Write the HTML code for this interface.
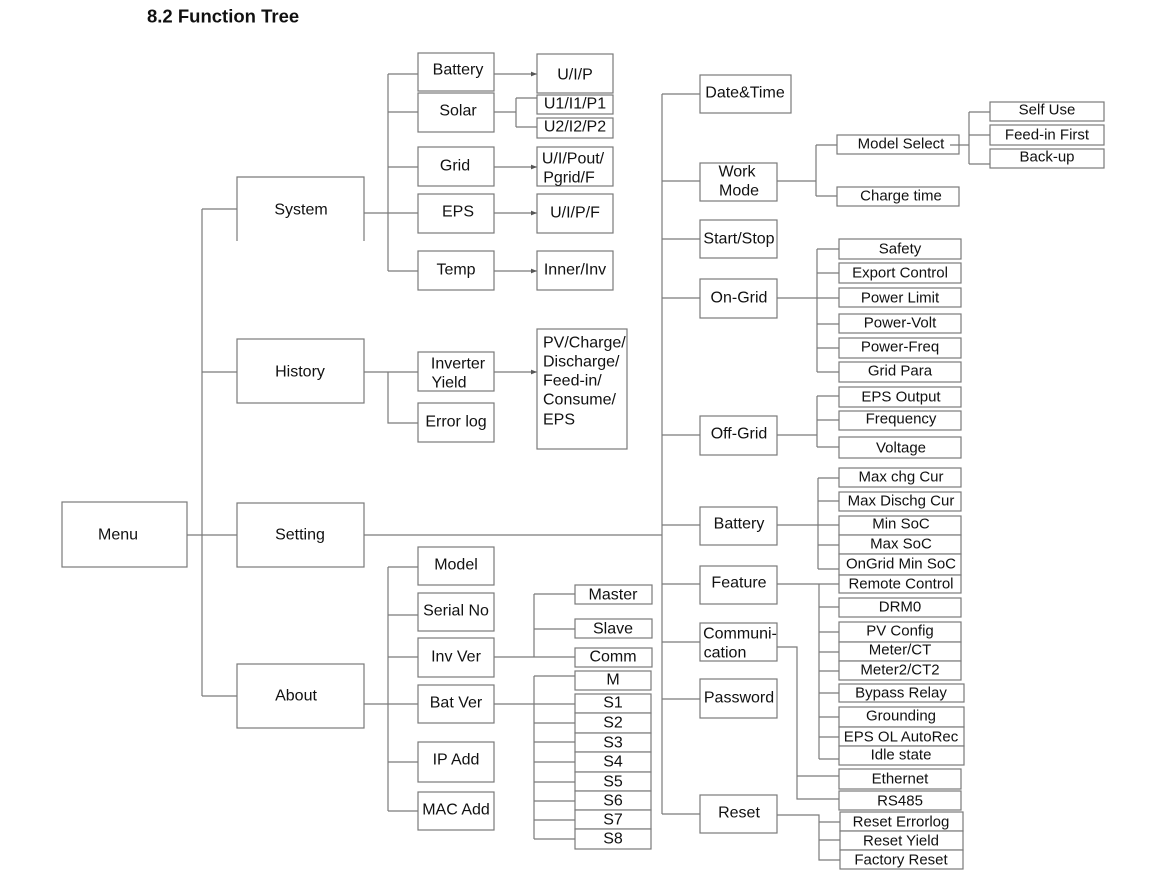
<!DOCTYPE html>
<html><head><meta charset="utf-8"><style>
html,body{margin:0;padding:0;background:#fff;}
svg{display:block;}
text{font-family:"Liberation Sans",Arial,sans-serif;fill:#111;text-anchor:middle;dominant-baseline:central;}
.t{font-size:16px;}
.s{font-size:15px;}
rect{fill:#fff;stroke:#7a7a7a;stroke-width:1.2;}
path,line{stroke:#7a7a7a;stroke-width:1.2;fill:none;}
</style></head><body>
<svg width="1171" height="883" viewBox="0 0 1171 883">
<defs><marker id="a" markerWidth="6" markerHeight="6" refX="5" refY="3" orient="auto"><path d="M0,1 L5,3 L0,5" style="fill:#555;stroke:none"/></marker></defs>
<text x="147" y="16" style="font-size:18.5px;font-weight:bold;text-anchor:start">8.2 Function Tree</text>

<!-- main trunk -->
<path d="M187,535 H202 M202,209 V696 M202,209 H237 M202,372 H237 M202,535 H237 M202,696 H237"/>
<rect x="62" y="502" width="125" height="65"/><text class="t" x="118" y="535">Menu</text>
<path d="M237,241 V177 H364 V241"/><text class="t" x="301" y="210">System</text>
<rect x="237" y="339" width="127" height="64"/><text class="t" x="300" y="372">History</text>
<rect x="237" y="503" width="127" height="64"/><text class="t" x="300" y="535">Setting</text>
<rect x="237" y="664" width="127" height="64"/><text class="t" x="296" y="696">About</text>

<!-- System -->
<path d="M364,213 H418 M388,74 V271 M388,74 H418 M388,112 H418 M388,167 H418 M388,271 H418"/>
<rect x="418" y="53" width="76" height="38"/><text class="t" x="458" y="70">Battery</text>
<rect x="418" y="93" width="76" height="39"/><text class="t" x="458" y="111">Solar</text>
<rect x="418" y="147" width="76" height="39"/><text class="t" x="455" y="166">Grid</text>
<rect x="418" y="194" width="76" height="39"/><text class="t" x="458" y="212">EPS</text>
<rect x="418" y="251" width="76" height="39"/><text class="t" x="456" y="270">Temp</text>
<path d="M494,74 H537" marker-end="url(#a)"/>
<path d="M494,167 H537" marker-end="url(#a)"/>
<path d="M494,213 H537" marker-end="url(#a)"/>
<path d="M494,271 H537" marker-end="url(#a)"/>
<path d="M494,112 H516 M516,98 V127 M516,98 H537 M516,127 H537"/>
<rect x="537" y="54" width="76" height="39"/><text class="t" x="575" y="75">U/I/P</text>
<rect x="537" y="95" width="76" height="19"/><text class="t" x="575" y="104">U1/I1/P1</text>
<rect x="537" y="118" width="76" height="20"/><text class="t" x="575" y="127">U2/I2/P2</text>
<rect x="537" y="147" width="76" height="39"/><text class="t" x="573" y="159">U/I/Pout/</text><text class="t" x="569" y="178">Pgrid/F</text>
<rect x="537" y="194" width="76" height="39"/><text class="t" x="575" y="213">U/I/P/F</text>
<rect x="537" y="251" width="76" height="39"/><text class="t" x="575" y="270">Inner/Inv</text>

<!-- History -->
<path d="M364,372 H418 M388,372 V423 H418"/>
<rect x="418" y="352" width="76" height="39"/><text class="t" x="458" y="364">Inverter</text><text class="t" x="449" y="383">Yield</text>
<rect x="418" y="403" width="76" height="39"/><text class="t" x="456" y="422">Error log</text>
<path d="M494,372 H537" marker-end="url(#a)"/>
<rect x="537" y="329" width="90" height="120"/>
<text class="t" x="543" y="343" style="text-anchor:start">PV/Charge/</text>
<text class="t" x="543" y="362" style="text-anchor:start">Discharge/</text>
<text class="t" x="543" y="381" style="text-anchor:start">Feed-in/</text>
<text class="t" x="543" y="400" style="text-anchor:start">Consume/</text>
<text class="t" x="543" y="420" style="text-anchor:start">EPS</text>

<!-- About -->
<path d="M364,704 H418 M388,567 V811 M388,567 H418 M388,615 H418 M388,657 H418 M388,762 H418 M388,811 H418"/>
<rect x="418" y="547" width="76" height="38"/><text class="t" x="456" y="565">Model</text>
<rect x="418" y="593" width="76" height="38"/><text class="t" x="456" y="611">Serial No</text>
<rect x="418" y="638" width="76" height="39"/><text class="t" x="456" y="657">Inv Ver</text>
<rect x="418" y="685" width="76" height="38"/><text class="t" x="456" y="703">Bat Ver</text>
<rect x="418" y="742" width="76" height="40"/><text class="t" x="456" y="760">IP Add</text>
<rect x="418" y="792" width="76" height="38"/><text class="t" x="456" y="810">MAC Add</text>
<path d="M494,657 H575 M534,594 V657 M534,594 H575 M534,629 H575"/>
<rect x="575" y="585" width="77" height="19"/><text class="t" x="613" y="595">Master</text>
<rect x="575" y="619" width="77" height="19"/><text class="t" x="613" y="629">Slave</text>
<rect x="575" y="648" width="77" height="19"/><text class="t" x="613" y="657">Comm</text>
<path d="M494,704 H575 M534,676 V839 M534,676 H575 M534,723 H575 M534,742 H575 M534,762 H575 M534,782 H575 M534,801 H575 M534,820 H575 M534,839 H575"/>
<rect x="575" y="671" width="76" height="19"/><text class="t" x="613" y="680">M</text>
<rect x="575" y="694" width="76" height="19"/><text class="t" x="613" y="703">S1</text>
<rect x="575" y="713" width="76" height="20"/><text class="t" x="613" y="723">S2</text>
<rect x="575" y="733" width="76" height="19"/><text class="t" x="613" y="743">S3</text>
<rect x="575" y="752" width="76" height="20"/><text class="t" x="613" y="762">S4</text>
<rect x="575" y="772" width="76" height="19"/><text class="t" x="613" y="782">S5</text>
<rect x="575" y="791" width="76" height="19"/><text class="t" x="613" y="801">S6</text>
<rect x="575" y="810" width="76" height="19"/><text class="t" x="613" y="820">S7</text>
<rect x="575" y="829" width="76" height="20"/><text class="t" x="613" y="839">S8</text>

<!-- Setting -->
<path d="M364,535 H662 M662,94 V814 M662,94 H700 M662,181 H700 M662,239 H700 M662,298 H700 M662,435 H700 M662,525 H700 M662,584 H700 M662,642 H700 M662,699 H700 M662,814 H700"/>
<rect x="700" y="75" width="91" height="38"/><text class="t" x="745" y="93">Date&amp;Time</text>
<rect x="700" y="163" width="77" height="38"/><text class="t" x="737" y="172">Work</text><text class="t" x="739" y="191">Mode</text>
<rect x="700" y="220" width="77" height="38"/><text class="t" x="739" y="239">Start/Stop</text>
<rect x="700" y="279" width="77" height="39"/><text class="t" x="739" y="298">On-Grid</text>
<rect x="700" y="416" width="77" height="39"/><text class="t" x="739" y="434">Off-Grid</text>
<rect x="700" y="507" width="77" height="38"/><text class="t" x="739" y="524">Battery</text>
<rect x="700" y="566" width="77" height="38"/><text class="t" x="739" y="583">Feature</text>
<rect x="700" y="623" width="77" height="38"/><text class="t" x="740" y="634">Communi-</text><text class="t" x="725" y="653">cation</text>
<rect x="700" y="679" width="77" height="39"/><text class="t" x="739" y="698">Password</text>
<rect x="700" y="795" width="77" height="38"/><text class="t" x="739" y="813">Reset</text>

<!-- Work Mode -->
<path d="M777,181 H816 M816,145 V196 M816,145 H837 M816,196 H837"/>
<rect x="837" y="135" width="122" height="19"/><text class="s" x="901" y="144">Model Select</text>
<rect x="837" y="187" width="122" height="19"/><text class="s" x="901" y="196">Charge time</text>
<path d="M950,145 H969 M969,112 V164 M969,112 H990 M969,135 H990 M969,164 H990"/>
<rect x="990" y="102" width="114" height="19"/><text class="s" x="1047" y="110">Self Use</text>
<rect x="990" y="125" width="114" height="20"/><text class="s" x="1047" y="135">Feed-in First</text>
<rect x="990" y="149" width="114" height="19"/><text class="s" x="1047" y="157">Back-up</text>

<!-- On-Grid -->
<path d="M777,298 H839 M817,249 V372 M817,249 H839 M817,273 H839 M817,324 H839 M817,348 H839 M817,372 H839"/>
<rect x="839" y="239" width="122" height="20"/><text class="s" x="900" y="249">Safety</text>
<rect x="839" y="263" width="122" height="20"/><text class="s" x="900" y="273">Export Control</text>
<rect x="839" y="288" width="122" height="19"/><text class="s" x="900" y="298">Power Limit</text>
<rect x="839" y="314" width="122" height="19"/><text class="s" x="900" y="323">Power-Volt</text>
<rect x="839" y="338" width="122" height="20"/><text class="s" x="900" y="347">Power-Freq</text>
<rect x="839" y="362" width="122" height="20"/><text class="s" x="900" y="371">Grid Para</text>

<!-- Off-Grid -->
<path d="M777,435 H817 M817,396 V447 M817,396 H839 M817,420 H839 M817,447 H839"/>
<rect x="839" y="387" width="122" height="20"/><text class="s" x="901" y="397">EPS Output</text>
<rect x="839" y="411" width="122" height="19"/><text class="s" x="901" y="419">Frequency</text>
<rect x="839" y="437" width="122" height="21"/><text class="s" x="901" y="448">Voltage</text>

<!-- Battery -->
<path d="M777,525 H839 M818,478 V569 M818,478 H839 M818,501 H839 M818,545 H839 M818,569 H839"/>
<rect x="839" y="468" width="122" height="19"/><text class="s" x="901" y="477">Max chg Cur</text>
<rect x="839" y="492" width="122" height="19"/><text class="s" x="901" y="501">Max Dischg Cur</text>
<rect x="839" y="516" width="122" height="19"/><text class="s" x="901" y="524">Min SoC</text>
<rect x="839" y="535" width="122" height="19"/><text class="s" x="901" y="544">Max SoC</text>
<rect x="839" y="554" width="122" height="21"/><text class="s" x="901" y="564">OnGrid Min SoC</text>
<rect x="839" y="575" width="122" height="18"/><text class="s" x="901" y="584">Remote Control</text>

<!-- Feature -->
<path d="M777,584 H839 M819,584 V759 M819,607 H839 M819,632 H839 M819,652 H839 M819,671 H839 M819,693 H839 M819,717 H839 M819,737 H839 M819,759 H839"/>
<rect x="839" y="598" width="122" height="19"/><text class="s" x="900" y="607">DRM0</text>
<rect x="839" y="622" width="122" height="20"/><text class="s" x="900" y="631">PV Config</text>
<rect x="839" y="642" width="122" height="19"/><text class="s" x="900" y="650">Meter/CT</text>
<rect x="839" y="661" width="122" height="19"/><text class="s" x="900" y="670">Meter2/CT2</text>
<rect x="839" y="684" width="125" height="18"/><text class="s" x="901" y="693">Bypass Relay</text>
<rect x="839" y="707" width="125" height="20"/><text class="s" x="901" y="716">Grounding</text>
<rect x="839" y="727" width="125" height="19"/><text class="s" x="901" y="737">EPS OL AutoRec</text>
<rect x="839" y="746" width="125" height="19"/><text class="s" x="901" y="755">Idle state</text>

<!-- Communication -->
<path d="M777,647 H797 V799 H839 M797,776 H839"/>
<rect x="839" y="769" width="122" height="20"/><text class="s" x="900" y="779">Ethernet</text>
<rect x="839" y="791" width="122" height="19"/><text class="s" x="900" y="801">RS485</text>

<!-- Reset -->
<path d="M777,815 H819 V860 H840 M819,822 H840 M819,840 H840"/>
<rect x="840" y="812" width="123" height="19"/><text class="s" x="901" y="822">Reset Errorlog</text>
<rect x="840" y="831" width="123" height="19"/><text class="s" x="901" y="841">Reset Yield</text>
<rect x="840" y="850" width="123" height="19"/><text class="s" x="901" y="860">Factory Reset</text>
</svg>
</body></html>
